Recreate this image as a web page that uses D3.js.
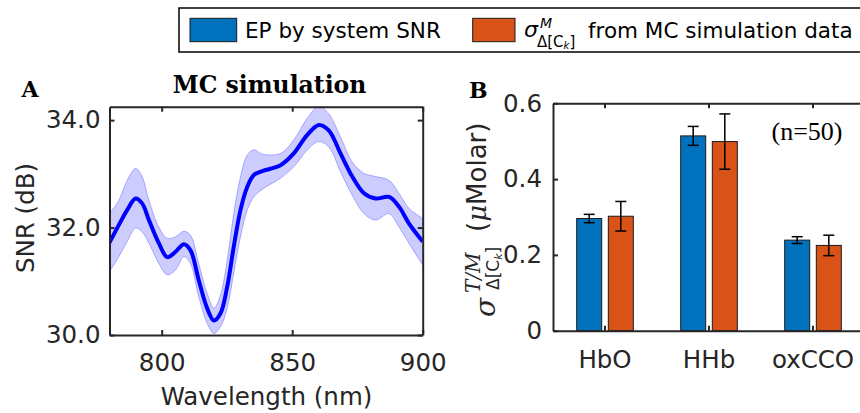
<!DOCTYPE html>
<html><head><meta charset="utf-8">
<script src="https://cdn.jsdelivr.net/npm/d3@7"></script>
<style>body{margin:0;background:#fff} svg{display:block}</style>
</head><body>
<svg id="c" width="860" height="413"></svg>
<script>
// ---------- Panel A data ----------
const wavelength = [780, 783.6, 786.8, 790, 792.5, 795.1, 798.9, 802.1, 805.3, 808.5, 811, 814.2, 817.4, 820, 822.5, 825.1, 827.6, 830.2, 832.8, 835.3, 838.5, 845.5, 850.6, 855.7, 860.2, 864, 868.5, 873, 877.5, 882, 887.1, 890.9, 894.7, 900];
const snrMean  = [31.72, 32.05, 32.33, 32.54, 32.45, 32.14, 31.71, 31.45, 31.55, 31.69, 31.58, 31.02, 30.50, 30.27, 30.40, 30.90, 31.64, 32.33, 32.76, 32.98, 33.05, 33.16, 33.38, 33.72, 33.91, 33.81, 33.38, 32.95, 32.64, 32.54, 32.57, 32.39, 32.08, 31.74];
const snrUpper = [32.26, 32.51, 32.88, 33.10, 32.95, 32.51, 32.01, 31.80, 31.83, 31.93, 31.86, 31.33, 30.78, 30.50, 30.74, 31.40, 32.26, 32.95, 33.35, 33.45, 33.37, 33.38, 33.63, 34.03, 34.26, 34.12, 33.69, 33.22, 33.01, 32.95, 32.88, 32.64, 32.36, 32.17];
const snrLower = [31.18, 31.46, 31.74, 31.99, 31.92, 31.71, 31.33, 31.12, 31.21, 31.46, 31.33, 30.71, 30.22, 30.03, 30.15, 30.50, 31.15, 31.83, 32.33, 32.57, 32.71, 32.92, 33.13, 33.44, 33.60, 33.50, 33.04, 32.60, 32.26, 32.14, 32.26, 32.01, 31.71, 31.30];
const xTicksA = [800, 850, 900];
const yTicksA = [30, 32, 34];

// ---------- Panel B data ----------
const categories = ["HbO", "HHb", "oxCCO"];
const seriesKeys = ["ep", "mc"];
const epValues = [0.296, 0.514, 0.239];
const epErrors = [0.011, 0.025, 0.009];
const mcValues = [0.302, 0.499, 0.225];
const mcErrors = [0.039, 0.073, 0.027];
const yTicksB = [0, 0.2, 0.4, 0.6];

const BLUE = "#0072BD", ORANGE = "#D95319", AX = "#262626";
const SANS = "DejaVu Sans", SERIF = "DejaVu Serif";

const svg = d3.select("#c");

function styleAxis(g, size) {
  g.select(".domain").attr("stroke", AX).attr("stroke-width", 2);
  g.selectAll(".tick line").attr("stroke", AX).attr("stroke-width", 2);
  g.selectAll(".tick text").attr("fill", AX).attr("font-family", SANS).attr("font-size", size);
  g.attr("font-family", null).attr("font-size", null);
}

// ================= Panel A =================
const xA = d3.scaleLinear().domain([780, 900]).range([109.5, 422.7]);
const yA = d3.scaleLinear().domain([30, 34.25]).range([335, 106.7]);

svg.append("clipPath").attr("id", "clipA").append("rect")
  .attr("x", xA(780)).attr("y", yA(34.25)).attr("width", xA(900) - xA(780)).attr("height", yA(30) - yA(34.25));

const idx = d3.range(wavelength.length);
const curve = d3.curveCatmullRom.alpha(0.5);
const gA = svg.append("g").attr("clip-path", "url(#clipA)");
gA.append("path")
  .attr("d", d3.area().x(i => xA(wavelength[i])).y0(i => yA(snrLower[i])).y1(i => yA(snrUpper[i])).curve(curve)(idx))
  .attr("fill", "rgba(0,0,255,0.2)").attr("stroke", "rgba(0,0,255,0.35)").attr("stroke-width", 0.8);
gA.append("path")
  .attr("d", d3.line().x(i => xA(wavelength[i])).y(i => yA(snrMean[i])).curve(curve)(idx))
  .attr("fill", "none").attr("stroke", "#0000ff").attr("stroke-width", 4).attr("stroke-linejoin", "round");

const fsA = 24.5;
svg.append("g").attr("transform", `translate(0,${yA(30)})`)
  .call(d3.axisBottom(xA).tickValues(xTicksA).tickFormat(d3.format("d")).tickSize(-5).tickSizeOuter(0).tickPadding(19))
  .call(g => styleAxis(g, fsA));
svg.append("g").attr("transform", `translate(0,${yA(34.25)})`)
  .call(d3.axisTop(xA).tickValues(xTicksA).tickFormat("").tickSize(-5).tickSizeOuter(0))
  .call(g => styleAxis(g, fsA));
svg.append("g").attr("transform", `translate(${xA(780)},0)`)
  .call(d3.axisLeft(yA).tickValues(yTicksA).tickFormat(d3.format(".1f")).tickSize(-5).tickSizeOuter(0).tickPadding(9))
  .call(g => styleAxis(g, fsA));
svg.append("g").attr("transform", `translate(${xA(900)},0)`)
  .call(d3.axisRight(yA).tickValues(yTicksA).tickFormat("").tickSize(-5).tickSizeOuter(0))
  .call(g => styleAxis(g, fsA));

svg.append("text").attr("x", 269.5).attr("y", 93.3).attr("text-anchor", "middle")
  .attr("font-family", SERIF).attr("font-weight", "bold").attr("font-size", 23.5).attr("fill", "#000")
  .text("MC simulation");
svg.append("text").attr("x", 21.5).attr("y", 97.3)
  .attr("font-family", SERIF).attr("font-weight", "bold").attr("font-size", 22).attr("fill", "#000").text("A");
svg.append("text").attr("x", 266.5).attr("y", 405).attr("text-anchor", "middle")
  .attr("font-family", SANS).attr("font-size", fsA).attr("fill", AX).text("Wavelength (nm)");
svg.append("text").attr("transform", "translate(34,218) rotate(-90)").attr("text-anchor", "middle")
  .attr("font-family", SANS).attr("font-size", fsA).attr("fill", AX).text("SNR (dB)");

// ================= Panel B =================
const x0 = d3.scaleBand().domain(categories).range([553, 865]);
const x1 = d3.scaleBand().domain(seriesKeys).range([23.7, 80.3]).paddingInner(0.209);
const yB = d3.scaleLinear().domain([0, 0.6]).range([330.7, 103.3]);

const barData = [];
categories.forEach((c, i) => {
  barData.push({cat: c, key: "ep", v: epValues[i], e: epErrors[i], color: BLUE});
  barData.push({cat: c, key: "mc", v: mcValues[i], e: mcErrors[i], color: ORANGE});
});

const gB = svg.append("g");
gB.selectAll("rect.bar").data(barData).join("rect").attr("class", "bar")
  .attr("x", d => x0(d.cat) + x1(d.key))
  .attr("width", x1.bandwidth())
  .attr("y", d => yB(d.v))
  .attr("height", d => yB(0) - yB(d.v))
  .attr("fill", d => d.color).attr("stroke", "#1a1a1a").attr("stroke-width", 1);

const errG = gB.selectAll("g.err").data(barData).join("g").attr("class", "err")
  .attr("transform", d => `translate(${x0(d.cat) + x1(d.key) + x1.bandwidth() / 2},0)`);
errG.append("line").attr("x1", 0).attr("x2", 0)
  .attr("y1", d => yB(d.v - d.e)).attr("y2", d => yB(d.v + d.e))
  .attr("stroke", "#000").attr("stroke-width", 1.5);
errG.append("line").attr("x1", -5.5).attr("x2", 5.5)
  .attr("y1", d => yB(d.v + d.e)).attr("y2", d => yB(d.v + d.e))
  .attr("stroke", "#000").attr("stroke-width", 1.5);
errG.append("line").attr("x1", -5.5).attr("x2", 5.5)
  .attr("y1", d => yB(d.v - d.e)).attr("y2", d => yB(d.v - d.e))
  .attr("stroke", "#000").attr("stroke-width", 1.5);

const fsB = 24.5;
svg.append("g").attr("transform", `translate(0,${yB(0)})`)
  .call(d3.axisBottom(x0).tickSize(-5).tickSizeOuter(0).tickPadding(20))
  .call(g => styleAxis(g, fsB));
svg.append("g").attr("transform", `translate(0,${yB(0.6)})`)
  .call(d3.axisTop(x0).tickFormat("").tickSize(-5).tickSizeOuter(0))
  .call(g => styleAxis(g, fsB));
svg.append("g").attr("transform", `translate(${x0.range()[0]},0)`)
  .call(d3.axisLeft(yB).tickValues(yTicksB).tickFormat(d => d === 0 ? "0" : d3.format(".1f")(d)).tickSize(-5).tickSizeOuter(0).tickPadding(11))
  .call(g => styleAxis(g, fsB));

svg.append("text").attr("x", 469).attr("y", 98)
  .attr("font-family", SERIF).attr("font-weight", "bold").attr("font-size", 22).attr("fill", "#000").text("B");
svg.append("text").attr("x", 771.5).attr("y", 139.5)
  .attr("font-family", "Liberation Serif").attr("font-size", 26).attr("fill", "#000").text("(n=50)");

// y label of B (rotated pieces)
function rtext(x, y, family, size, style, str) {
  return svg.append("text").attr("transform", `translate(${x},${y}) rotate(-90)`)
    .attr("font-family", family).attr("font-size", size).attr("font-style", style)
    .attr("fill", AX).text(str);
}
rtext(495, 317, SERIF, 28, "italic", "σ");
rtext(480, 293, SERIF, 20, "italic", "T/M");
const sub = svg.append("text").attr("transform", "translate(499,290) rotate(-90)")
  .attr("font-family", SANS).attr("font-size", 17).attr("fill", AX);
sub.append("tspan").text("Δ[C");
sub.append("tspan").attr("font-size", 11).attr("font-style", "italic").attr("dy", 3).text("k");
sub.append("tspan").attr("dy", -3).text("]");
const unit = svg.append("text").attr("transform", "translate(486,232) rotate(-90)")
  .attr("font-family", SANS).attr("font-size", 26).attr("fill", AX);
unit.append("tspan").text("(");
unit.append("tspan").attr("font-family", SERIF).attr("font-style", "italic").text("μ");
unit.append("tspan").text("Molar)");

// ================= Legend =================
const leg = svg.append("g");
leg.append("rect").attr("x", 179).attr("y", 8).attr("width", 720).attr("height", 44)
  .attr("fill", "#fff").attr("stroke", "#000").attr("stroke-width", 1.5);
leg.append("rect").attr("x", 190).attr("y", 18.3).attr("width", 46.7).attr("height", 23.4)
  .attr("fill", BLUE).attr("stroke", "#1a1a1a").attr("stroke-width", 1);
leg.append("text").attr("x", 245).attr("y", 37.7).attr("font-family", SANS).attr("font-size", 21.5)
  .attr("fill", "#000").text("EP by system SNR");
leg.append("rect").attr("x", 472.7).attr("y", 18.3).attr("width", 42.3).attr("height", 23.4)
  .attr("fill", ORANGE).attr("stroke", "#1a1a1a").attr("stroke-width", 1);
leg.append("text").attr("x", 524).attr("y", 37).attr("font-family", SANS).attr("font-style", "italic")
  .attr("font-size", 22).attr("fill", "#000").text("σ");
leg.append("text").attr("x", 540).attr("y", 27.5).attr("font-family", SANS).attr("font-style", "italic")
  .attr("font-size", 14).attr("fill", "#000").text("M");
const lsub = leg.append("text").attr("x", 537).attr("y", 47).attr("font-family", SANS)
  .attr("font-size", 15).attr("fill", "#000");
lsub.append("tspan").text("Δ[C");
lsub.append("tspan").attr("font-size", 10).attr("font-style", "italic").attr("dy", 2).text("k");
lsub.append("tspan").attr("dy", -2).text("]");
leg.append("text").attr("x", 588).attr("y", 37.7).attr("font-family", SANS).attr("font-size", 21.5)
  .attr("fill", "#000").text("from MC simulation data");
</script>
</body></html>
